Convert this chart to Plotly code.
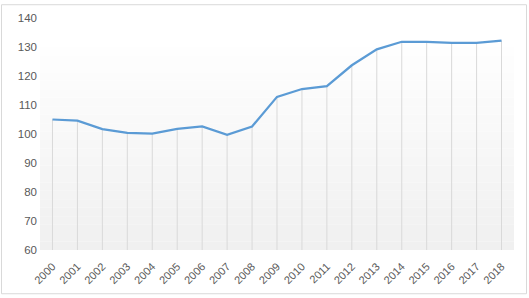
import plotly.graph_objects as go

years = [str(y) for y in range(2000, 2019)]
values = [105.0, 104.6, 101.7, 100.4, 100.1, 101.8, 102.6, 99.7, 102.6, 112.8,
          115.5, 116.5, 123.7, 129.2, 131.8, 131.8, 131.4, 131.4, 132.2]
y_ticks = [60, 70, 80, 90, 100, 110, 120, 130, 140]

W, H = 529, 298
ml, mr, mt, mb = 40, 15, 15, 47
pw, ph = W - ml - mr, H - mt - mb

shapes = []
# gradient background (plot area decoration)
n = 24
for i in range(n):
    f = i / (n - 1)
    c0 = (240, 240, 240)
    c1 = (254, 254, 254)
    c = tuple(int(round(a + (b - a) * f)) for a, b in zip(c0, c1))
    y0 = 60 + 70 * i / n
    y1 = 60 + 70 * (i + 1) / n
    shapes.append(dict(type="rect", xref="paper", yref="y", x0=0, x1=1, y0=y0, y1=y1,
                       fillcolor="rgb(%d,%d,%d)" % c, line=dict(width=0), layer="below"))
# outer border
shapes.append(dict(type="rect", xref="paper", yref="paper",
                   x0=-(ml - 1.5) / pw, x1=1 + (mr - 2.5) / pw,
                   y0=-(mb - 2.5) / ph, y1=1 + (mt - 1.5) / ph,
                   line=dict(color="#d9d9d9", width=1), fillcolor="rgba(0,0,0,0)", layer="below"))

fig = go.Figure()
fig.add_trace(go.Scatter(
    x=years, y=values, mode="lines",
    line=dict(color="#5B9BD5", width=2.25),
    error_y=dict(type="data", symmetric=False, array=[0] * len(values),
                 arrayminus=[v - 60 for v in values], color="#d9d9d9",
                 thickness=1, width=0),
    hoverinfo="x+y",
))

fig.update_layout(
    width=W, height=H,
    margin=dict(l=ml, r=mr, t=mt, b=mb),
    paper_bgcolor="white", plot_bgcolor="white",
    showlegend=False,
    shapes=shapes,
    font=dict(family="Liberation Sans, Arial, sans-serif", size=11, color="#595959"),
    xaxis=dict(type="category", range=[-0.5, 18.5], showgrid=False, zeroline=False,
               showline=False, ticks="", tickangle=-45, ticklabelstandoff=7,
               tickfont=dict(size=11, color="#595959")),
    yaxis=dict(range=[60, 140], tickvals=y_ticks, showgrid=False, zeroline=False,
               showline=False, ticks="", ticklabelstandoff=2,
               tickfont=dict(size=11.5, color="#595959")),
)

fig.write_html("out.html")
